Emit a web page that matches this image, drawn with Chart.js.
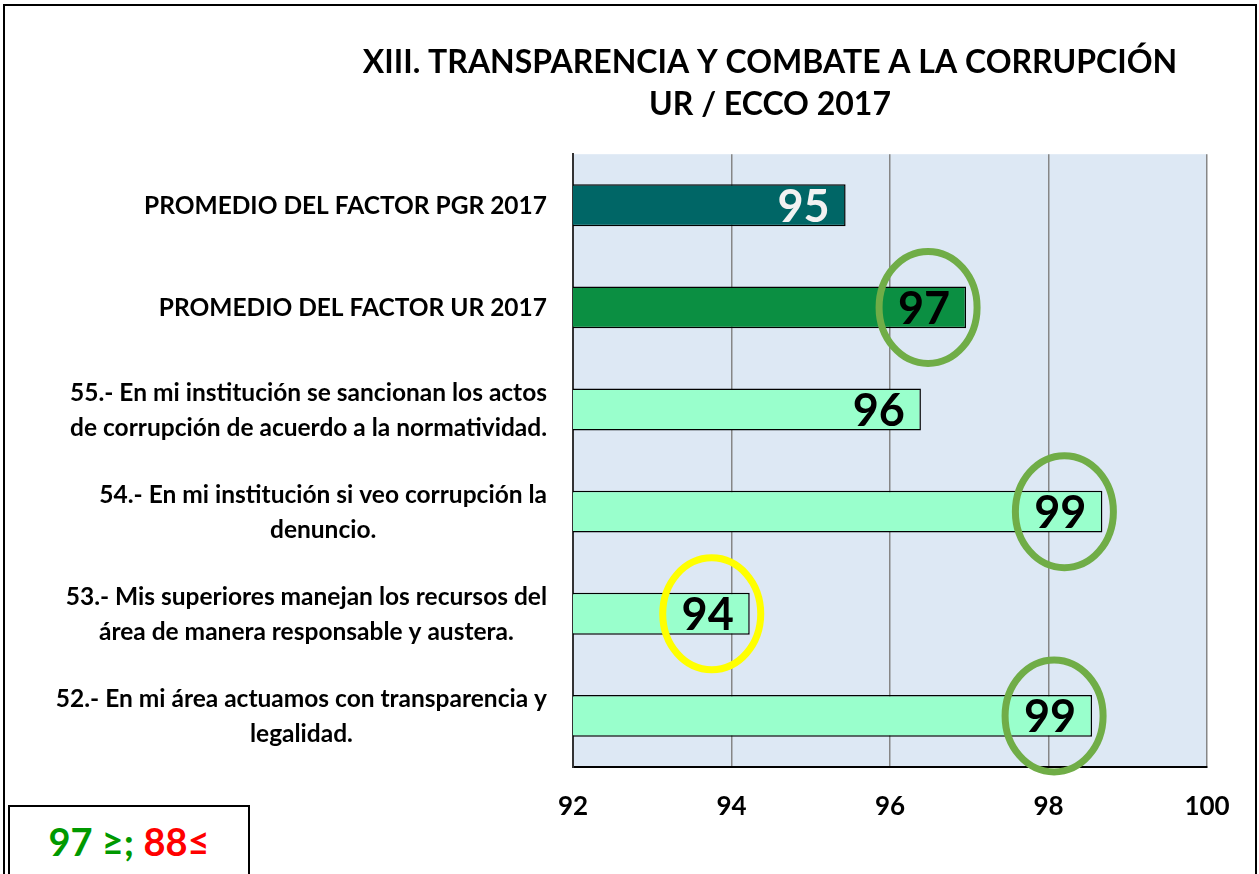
<!DOCTYPE html>
<html>
<head>
<meta charset="utf-8">
<script src="https://cdn.jsdelivr.net/npm/chart.js@4"></script>
<style>
  html, body { margin: 0; padding: 0; background: #fff; }
  #wrap { position: relative; width: 1259px; height: 874px; overflow: hidden; }
  #frame { position: absolute; left: 3px; top: 4px; width: 1250px; height: 900px; border: 2px solid #000; }
  #chartBox { position: absolute; left: 0; top: 0; width: 1259px; height: 874px; }
  #note { position: absolute; left: 8px; top: 805px; width: 238px; height: 90px; border: 2px solid #000; background: #fff;
          font: bold 38px Lato, sans-serif; text-align: center; line-height: 68px; }
</style>
</head>
<body>
<div id="wrap">
  <div id="frame"></div>
  <div id="chartBox"><canvas id="factorChart"></canvas></div>
  <div id="note"><span style="color:#009900">97 ≥;</span> <span style="color:#ff0000">88≤</span></div>
</div>
<script>
// data
var categories = [
    ['PROMEDIO DEL FACTOR PGR 2017'],
    ['PROMEDIO DEL FACTOR UR 2017'],
    ['55.- En mi institución se sancionan los actos', 'de corrupción de acuerdo a la normatividad.'],
    ['54.- En mi institución si veo corrupción la', 'denuncio.'],
    ['53.- Mis superiores manejan los recursos del', 'área de manera responsable y austera.'],
    ['52.- En mi área actuamos con transparencia y', 'legalidad.']
];
var values = [95.44, 96.96, 96.39, 98.68, 94.23, 98.55];
var xTicks = [92, 94, 96, 98, 100];
var barColors = ['#006666', '#0b8f42', '#99ffcc', '#99ffcc', '#99ffcc', '#99ffcc'];
var labelColors = ['#f2f2f2', '#000', '#000', '#000', '#000', '#000'];
var circleColors = [null, '#70ad47', null, '#70ad47', '#ffff00', '#70ad47'];

var FONT = 'Lato, sans-serif';

// light blue plot background
var plotBg = {
    id: 'plotBg',
    beforeDraw: function(chart) {
        var a = chart.chartArea, ctx = chart.ctx;
        ctx.save();
        ctx.fillStyle = '#dde8f4';
        ctx.fillRect(a.left, a.top, a.right - a.left, a.bottom - a.top);
        ctx.restore();
    }
};

// category labels: block right aligned, lines centered
var catLabels = {
    id: 'catLabels',
    afterDraw: function(chart) {
        var ctx = chart.ctx, yScale = chart.scales.y;
        ctx.save();
        ctx.font = 'bold 24.5px ' + FONT;
        ctx.fillStyle = '#000';
        ctx.textAlign = 'center';
        ctx.textBaseline = 'middle';
        categories.forEach(function(lines, i) {
            var maxW = 0;
            lines.forEach(function(l) { maxW = Math.max(maxW, ctx.measureText(l).width); });
            var cx = chart.chartArea.left - 26 - maxW / 2;
            var cy = yScale.getPixelForValue(i) + 1;
            var lh = 35;
            lines.forEach(function(l, j) {
                ctx.fillText(l, cx, cy + (j - (lines.length - 1) / 2) * lh);
            });
        });
        ctx.restore();
    }
};

// value labels + highlight circles
var valueLabels = {
    id: 'valueLabels',
    afterDatasetsDraw: function(chart) {
        var ctx = chart.ctx;
        var meta = chart.getDatasetMeta(0);
        ctx.save();
        meta.data.forEach(function(bar, i) {
            ctx.font = 'bold 45px ' + FONT;
            ctx.fillStyle = labelColors[i];
            ctx.textAlign = 'right';
            ctx.textBaseline = 'middle';
            ctx.fillText(Math.round(values[i]), bar.x - 16, bar.y + 2);
            if (circleColors[i]) {
                ctx.beginPath();
                ctx.ellipse(bar.x - 38, bar.y, 49, 56, 0, 0, Math.PI * 2);
                ctx.lineWidth = 7;
                ctx.strokeStyle = circleColors[i];
                ctx.stroke();
            }
        });
        ctx.restore();
    }
};

var ctx = document.getElementById('factorChart').getContext('2d');
var chart = new Chart(ctx, {
    type: 'bar',
    data: {
        labels: categories,
        datasets: [{
            data: values,
            backgroundColor: barColors,
            borderColor: '#000',
            borderWidth: 1.5,
            borderSkipped: false,
            barPercentage: 0.41,
            categoryPercentage: 1
        }]
    },
    options: {
        indexAxis: 'y',
        responsive: true,
        maintainAspectRatio: false,
        animation: false,
        layout: { padding: { left: 333, right: 52, top: 42, bottom: 40 } },
        plugins: {
            legend: { display: false },
            tooltip: { enabled: false },
            title: {
                display: true,
                text: ['XIII. TRANSPARENCIA Y COMBATE A LA CORRUPCIÓN', 'UR / ECCO 2017'],
                color: '#000',
                font: { family: FONT, size: 32, weight: 'bold', lineHeight: 1.3 },
                padding: { top: 0, bottom: 29 }
            }
        },
        scales: {
            x: {
                min: 92,
                max: 100,
                afterBuildTicks: function(scale) {
                    scale.ticks = xTicks.map(function(v) { return { value: v }; });
                },
                afterFit: function(scale) { scale.height = 67; },
                grid: { color: '#868686', lineWidth: 1.5, drawTicks: false },
                border: { color: '#000', width: 2 },
                ticks: {
                    color: '#000',
                    padding: 24,
                    font: { family: FONT, size: 26, weight: 'bold' }
                }
            },
            y: {
                afterFit: function(scale) { scale.width = 240; },
                grid: { display: false },
                border: { color: '#333', width: 2 },
                ticks: { display: false }
            }
        }
    },
    plugins: [plotBg, catLabels, valueLabels]
});
</script>
</body>
</html>
